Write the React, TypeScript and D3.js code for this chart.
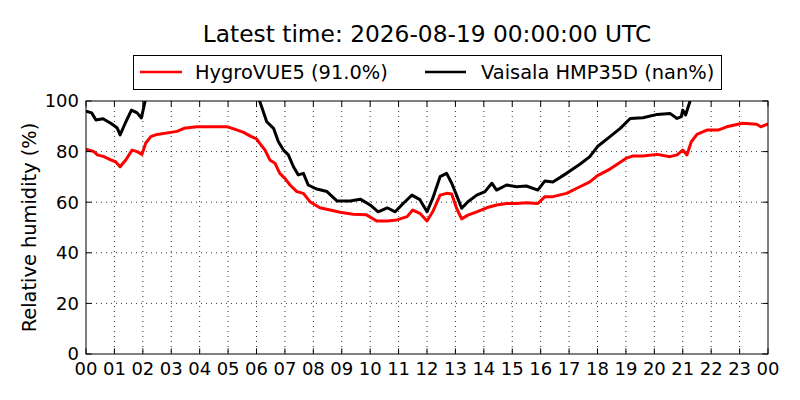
import React from "react";
import * as d3 from "d3";

const hygroHours = [0, 0.28, 0.4, 0.63, 0.87, 1.04, 1.2, 1.4, 1.62, 1.8, 1.97, 2.1, 2.28, 2.5, 2.98, 3.2, 3.45, 3.9, 4.97, 5.2, 5.55, 5.8, 6.0, 6.2, 6.3, 6.47, 6.65, 6.82, 7.0, 7.18, 7.42, 7.65, 7.88, 8.23, 8.59, 8.94, 9.4, 9.87, 10.23, 10.6, 10.94, 11.3, 11.5, 11.75, 12.0, 12.2, 12.46, 12.69, 12.87, 13.04, 13.22, 13.44, 13.75, 14.1, 14.45, 14.8, 15.15, 15.5, 15.9, 16.15, 16.43, 16.91, 17.38, 17.73, 18.0, 18.44, 19.0, 19.25, 19.6, 20.1, 20.55, 20.8, 21.0, 21.15, 21.3, 21.5, 21.85, 22.24, 22.55, 23.1, 23.6, 23.75, 24];
const hygroValues = [81, 80, 78.7, 78, 76.7, 76, 74, 76.7, 80.6, 80, 78.9, 83.3, 85.9, 86.8, 87.6, 88, 89.2, 89.8, 89.8, 89, 87.6, 86, 85, 82, 80.6, 76.7, 75.4, 71.4, 69.4, 66.8, 64.2, 63.5, 60.2, 57.8, 56.9, 56, 55.2, 55, 52.6, 52.6, 53, 54.3, 56.9, 55.6, 52.6, 56.2, 62.8, 63.5, 63.2, 57.6, 53.4, 54.9, 56.2, 57.8, 58.9, 59.5, 59.5, 59.8, 59.5, 62.2, 62.2, 63.5, 66.1, 68, 70.5, 73.1, 77.3, 78.3, 78.3, 78.9, 78, 78.7, 80.6, 78.7, 83.9, 86.8, 88.5, 88.5, 89.8, 91.2, 90.8, 89.8, 91];

const vaisalaHours = [0, 0.2, 0.35, 0.6, 0.9, 1.1, 1.2, 1.4, 1.6, 1.8, 1.95, 2.1, 2.3, 5.9, 6.12, 6.36, 6.6, 6.77, 6.95, 7.12, 7.3, 7.47, 7.65, 7.82, 8.12, 8.48, 8.83, 9.3, 9.65, 10.0, 10.28, 10.6, 10.88, 11.16, 11.47, 11.75, 12.0, 12.2, 12.46, 12.69, 12.87, 13.04, 13.22, 13.44, 13.75, 14.04, 14.28, 14.45, 14.8, 15.15, 15.5, 15.9, 16.15, 16.43, 16.91, 17.38, 17.73, 18.0, 18.44, 18.8, 19.15, 19.6, 20.1, 20.55, 20.8, 20.95, 21.0, 21.1, 21.25, 21.35, 24];
const vaisalaValues = [96, 95.3, 92.5, 93, 91, 89.3, 86.6, 91.7, 96.4, 95.3, 93.3, 101, 104, 104, 99.7, 91.8, 89.2, 83.9, 80.6, 78.7, 74, 70.8, 71.4, 66.8, 65.2, 64.2, 60.5, 60.5, 61.2, 58.9, 56.2, 57.8, 56.2, 59.5, 62.8, 61, 56.2, 61.5, 70.1, 71.4, 67.5, 62.8, 57.6, 60.2, 62.8, 64.2, 67.5, 64.8, 66.8, 66.1, 66.4, 64.8, 68.4, 68, 71.4, 75, 78, 82, 85.9, 89.2, 93.1, 93.4, 94.7, 95.1, 93.1, 93.8, 96.4, 94.5, 99.7, 104, 104];

const yTicks = [0, 20, 40, 60, 80, 100];
const xTickHours = d3.range(0, 25);
const xTickLabels = xTickHours.map((h) => String(h % 24).padStart(2, "0"));

const titleText = "Latest time: 2026-08-19 00:00:00 UTC";
const seriesNames = ["HygroVUE5 (91.0%)", "Vaisala HMP35D (nan%)"];
const seriesColors = ["#ff0000", "#000000"];
const yLabel = "Relative humidity (%)";

const W = 800;
const H = 400;
const M = { left: 86, right: 768, top: 101, bottom: 354 };
const FONT = "'DejaVu Sans', sans-serif";

export default function App() {
  const x = d3.scaleLinear().domain([0, 24]).range([M.left, M.right]);
  const y = d3.scaleLinear().domain([0, 100]).range([M.bottom, M.top]);
  const line = d3
    .line<[number, number]>()
    .x((d) => x(d[0]))
    .y((d) => y(d[1]));
  const hygro = hygroHours.map((h, i) => [h, hygroValues[i]] as [number, number]);
  const vais = vaisalaHours.map((h, i) => [h, vaisalaValues[i]] as [number, number]);
  const tickLen = 5.6;

  return (
    <svg
      width={W}
      height={H}
      style={{ position: "absolute", left: 0, top: 0, background: "#fff" }}
      fontFamily={FONT}
    >
      <rect x={0} y={0} width={W} height={H} fill="#fff" />
      <defs>
        <clipPath id="plotClip">
          <rect x={M.left} y={M.top} width={M.right - M.left} height={M.bottom - M.top} />
        </clipPath>
      </defs>
      {/* grid */}
      {xTickHours.slice(1, -1).map((h) => (
        <line key={"gx" + h} x1={x(h)} x2={x(h)} y1={M.top} y2={M.bottom} stroke="#000" strokeWidth={0.8} strokeDasharray="1,4" />
      ))}
      {yTicks.slice(1, -1).map((v) => (
        <line key={"gy" + v} x1={M.left} x2={M.right} y1={y(v)} y2={y(v)} stroke="#000" strokeWidth={0.8} strokeDasharray="1,4" />
      ))}
      {/* data */}
      <g clipPath="url(#plotClip)">
        <path d={line(hygro) || ""} fill="none" stroke={seriesColors[0]} strokeWidth={3} strokeLinejoin="round" />
        <path d={line(vais) || ""} fill="none" stroke={seriesColors[1]} strokeWidth={3} strokeLinejoin="round" />
      </g>
      {/* ticks */}
      {xTickHours.map((h) => (
        <g key={"tx" + h}>
          <line x1={x(h)} x2={x(h)} y1={M.bottom} y2={M.bottom - tickLen} stroke="#000" strokeWidth={1} />
          <line x1={x(h)} x2={x(h)} y1={M.top} y2={M.top + tickLen} stroke="#000" strokeWidth={1} />
          <text x={x(h)} y={M.bottom + 21} textAnchor="middle" fontSize={18} fill="#000">
            {xTickLabels[h]}
          </text>
        </g>
      ))}
      {yTicks.map((v) => (
        <g key={"ty" + v}>
          <line x1={M.left} x2={M.left + tickLen} y1={y(v)} y2={y(v)} stroke="#000" strokeWidth={1} />
          <line x1={M.right} x2={M.right - tickLen} y1={y(v)} y2={y(v)} stroke="#000" strokeWidth={1} />
          <text x={M.left - 7} y={y(v)} dy="0.35em" textAnchor="end" fontSize={18} fill="#000">
            {v}
          </text>
        </g>
      ))}
      <rect x={M.left} y={M.top} width={M.right - M.left} height={M.bottom - M.top} fill="none" stroke="#000" strokeWidth={1} />
      {/* y label */}
      <text
        transform={`translate(36,${(M.top + M.bottom) / 2}) rotate(-90)`}
        textAnchor="middle"
        fontSize={19.4}
        fill="#000"
      >
        {yLabel}
      </text>
      {/* title */}
      <text x={(M.left + M.right) / 2} y={42} textAnchor="middle" fontSize={23.3} fill="#000">
        {titleText}
      </text>
      {/* legend */}
      <rect x={133.5} y={55.5} width={588} height={34} fill="#fff" stroke="#000" strokeWidth={1} />
      <line x1={140} x2={182} y1={72} y2={72} stroke={seriesColors[0]} strokeWidth={2.6} />
      <text x={195} y={72} dy="0.35em" fontSize={19.4} fill="#000">
        {seriesNames[0]}
      </text>
      <line x1={425} x2={466} y1={72} y2={72} stroke={seriesColors[1]} strokeWidth={2.6} />
      <text x={481} y={72} dy="0.35em" fontSize={19.4} fill="#000">
        {seriesNames[1]}
      </text>
    </svg>
  );
}
